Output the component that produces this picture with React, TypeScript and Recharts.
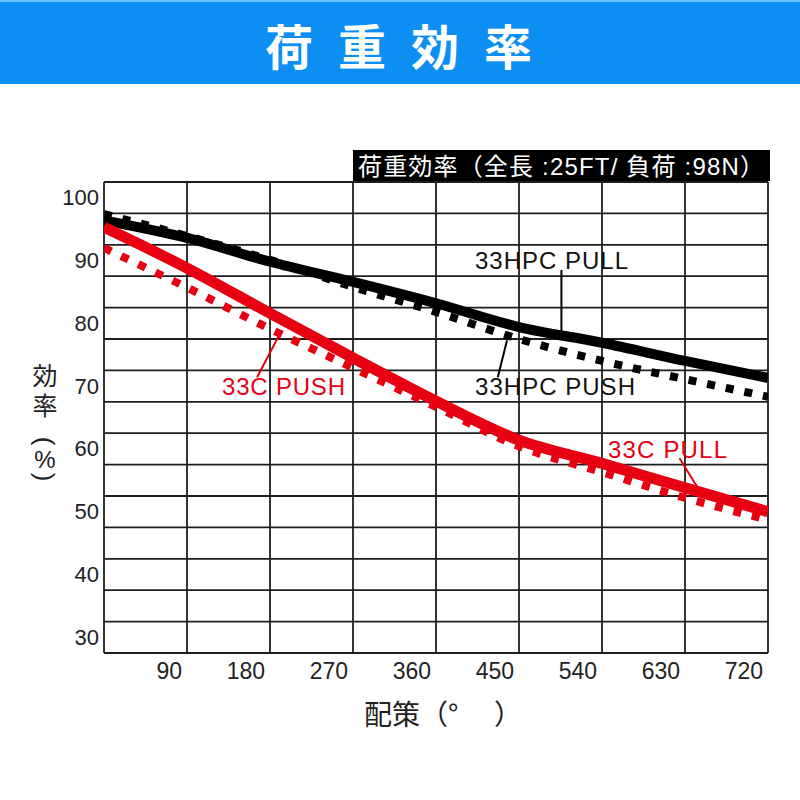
import React from "react"
import { LineChart, Line, XAxis, YAxis, ReferenceLine } from "recharts"

// 配策角度 (°)
const angles = [0, 90, 180, 270, 360, 450, 540, 630, 720]
// 荷重効率 (%)
const hpcPull = [96.4, 93.6, 89.8, 86.6, 83.2, 79.4, 76.9, 74.0, 71.3]
const hpcPush = [97.4, 93.9, 90.1, 85.8, 81.8, 77.5, 74.0, 71.1, 68.3]
const cPull = [95.3, 88.8, 81.6, 74.5, 67.6, 61.4, 57.7, 53.8, 50.0]
const cPush = [92.0, 85.7, 79.1, 72.9, 66.7, 60.4, 56.3, 52.2, 48.7]

const xTicks = [90, 180, 270, 360, 450, 540, 630, 720]
const yTicks = [30, 40, 50, 60, 70, 80, 90, 100]
const yGrid = [27.5, 32.5, 37.5, 42.5, 47.5, 52.5, 57.5, 62.5, 67.5, 72.5, 77.5, 82.5, 87.5, 92.5, 97.5, 102.5]

const headerChars = ["荷", "重", "効", "率"]

const BLUE = "#0c8ef2"
const RED = "#e60012"
const GRID = "#1e1e1e"
const latin = "'Liberation Sans', 'Noto Sans CJK JP', sans-serif"
const jp = "'Noto Sans CJK JP', sans-serif"

const data = angles.map((a, i) => ({
  angle: a,
  hpcPull: hpcPull[i],
  hpcPush: hpcPush[i],
  cPull: cPull[i],
  cPush: cPush[i],
}))

const XTick = ({ x, y, payload }: any) => (
  <text x={x - 5} y={y + 10} textAnchor="end" dominantBaseline="central" fontSize={23} fontFamily={latin} fill="#222">
    {payload.value}
  </text>
)

const YTick = ({ x, y, payload }: any) => (
  <text x={x + 3} y={y} textAnchor="end" dominantBaseline="central" fontSize={22} fontFamily={latin} fill="#222">
    {payload.value}
  </text>
)

export default function App() {
  return (
    <div style={{ position: "absolute", left: 0, top: 0, width: 800, height: 800, background: "#fff" }}>
      <LineChart
        width={800}
        height={800}
        data={data}
        margin={{ top: 182, right: 32, bottom: 107, left: 44 }}
      >
        <XAxis
          dataKey="angle"
          type="number"
          domain={[0, 720]}
          ticks={xTicks}
          tick={<XTick />}
          axisLine={false}
          tickLine={false}
          height={40}
          allowDataOverflow
        />
        <YAxis
          type="number"
          domain={[27.5, 102.5]}
          ticks={yTicks}
          tick={<YTick />}
          axisLine={false}
          tickLine={false}
          width={60}
          allowDataOverflow
        />
        {yGrid.map((v) => (
          <ReferenceLine key={"h" + v} y={v} stroke={GRID} strokeWidth={1.8} />
        ))}
        {angles.map((a) => (
          <ReferenceLine key={"v" + a} x={a} stroke={GRID} strokeWidth={1.8} />
        ))}

        <Line type="monotone" dataKey="hpcPull" stroke="#000" strokeWidth={10} dot={false} isAnimationActive={false} />
        <Line type="monotone" dataKey="hpcPush" stroke="#000" strokeWidth={8} strokeDasharray="8 11" dot={false} isAnimationActive={false} />
        <Line type="monotone" dataKey="cPush" stroke={RED} strokeWidth={8} strokeDasharray="8 11" dot={false} isAnimationActive={false} />
        <Line type="monotone" dataKey="cPull" stroke={RED} strokeWidth={11} dot={false} isAnimationActive={false} />

        {/* 引き出し線 */}
        <ReferenceLine segment={[{ x: 496, y: 88.5 }, { x: 496, y: 78.4 }]} stroke="#000" strokeWidth={2} />
        <ReferenceLine segment={[{ x: 427, y: 71.4 }, { x: 437, y: 77.3 }]} stroke="#000" strokeWidth={2} />
        <ReferenceLine segment={[{ x: 166, y: 71.4 }, { x: 191, y: 78.4 }]} stroke={RED} strokeWidth={2} />
        <ReferenceLine segment={[{ x: 624, y: 58.5 }, { x: 646, y: 53.3 }]} stroke={RED} strokeWidth={2} />
      </LineChart>

      <svg width={800} height={800} style={{ position: "absolute", left: 0, top: 0, pointerEvents: "none" }}>
        {/* header */}
        <rect x={0} y={0} width={800} height={84} fill={BLUE} />
        <rect x={0} y={0} width={800} height={2} fill="#6cc0fa" />
        {headerChars.map((c, i) => (
          <text
            key={c}
            x={289 + i * 73}
            y={44}
            textAnchor="middle"
            dominantBaseline="central"
            fontSize={48}
            fontWeight={700}
            fontFamily={jp}
            fill="#fff"
          >
            {c}
          </text>
        ))}

        {/* chart title box */}
        <rect x={353} y={150} width={417} height={31} fill="#000" />
        <text x={358} y={166} dominantBaseline="central" fontSize={24} fontFamily={latin} fill="#fff" textLength={406} lengthAdjust="spacing">
          荷重効率（全長 :25FT/ 負荷 :98N）
        </text>

        {/* y title */}
        <text x={45} y={374} textAnchor="middle" dominantBaseline="central" fontSize={25} fontFamily={jp} fill="#222">効</text>
        <text x={45} y={404} textAnchor="middle" dominantBaseline="central" fontSize={25} fontFamily={jp} fill="#222">率</text>
        <text x={0} y={0} transform="translate(45 441) rotate(90)" textAnchor="middle" dominantBaseline="central" fontSize={26} fontFamily={latin} fill="#222">(</text>
        <text x={45} y={459} textAnchor="middle" dominantBaseline="central" fontSize={24} fontFamily={latin} fill="#222">%</text>
        <text x={0} y={0} transform="translate(45 477) rotate(90)" textAnchor="middle" dominantBaseline="central" fontSize={26} fontFamily={latin} fill="#222">)</text>

        {/* x title */}
        <text x={364} y={713} dominantBaseline="central" fontSize={28} fontFamily={jp} fill="#222">配策（°</text>
        <text x={522} y={713} textAnchor="end" dominantBaseline="central" fontSize={28} fontFamily={jp} fill="#222">）</text>

        {/* series labels */}
        <text x={475} y={269} fontSize={24} fontFamily={latin} fill="#111" textLength={153} lengthAdjust="spacing">33HPC PULL</text>
        <text x={475} y={395} fontSize={24} fontFamily={latin} fill="#111" textLength={160} lengthAdjust="spacing">33HPC PUSH</text>
        <text x={222} y={395} fontSize={24} fontFamily={latin} fill={RED} textLength={123} lengthAdjust="spacing">33C PUSH</text>
        <text x={608} y={458} fontSize={24} fontFamily={latin} fill={RED} textLength={119} lengthAdjust="spacing">33C PULL</text>
      </svg>
    </div>
  )
}
